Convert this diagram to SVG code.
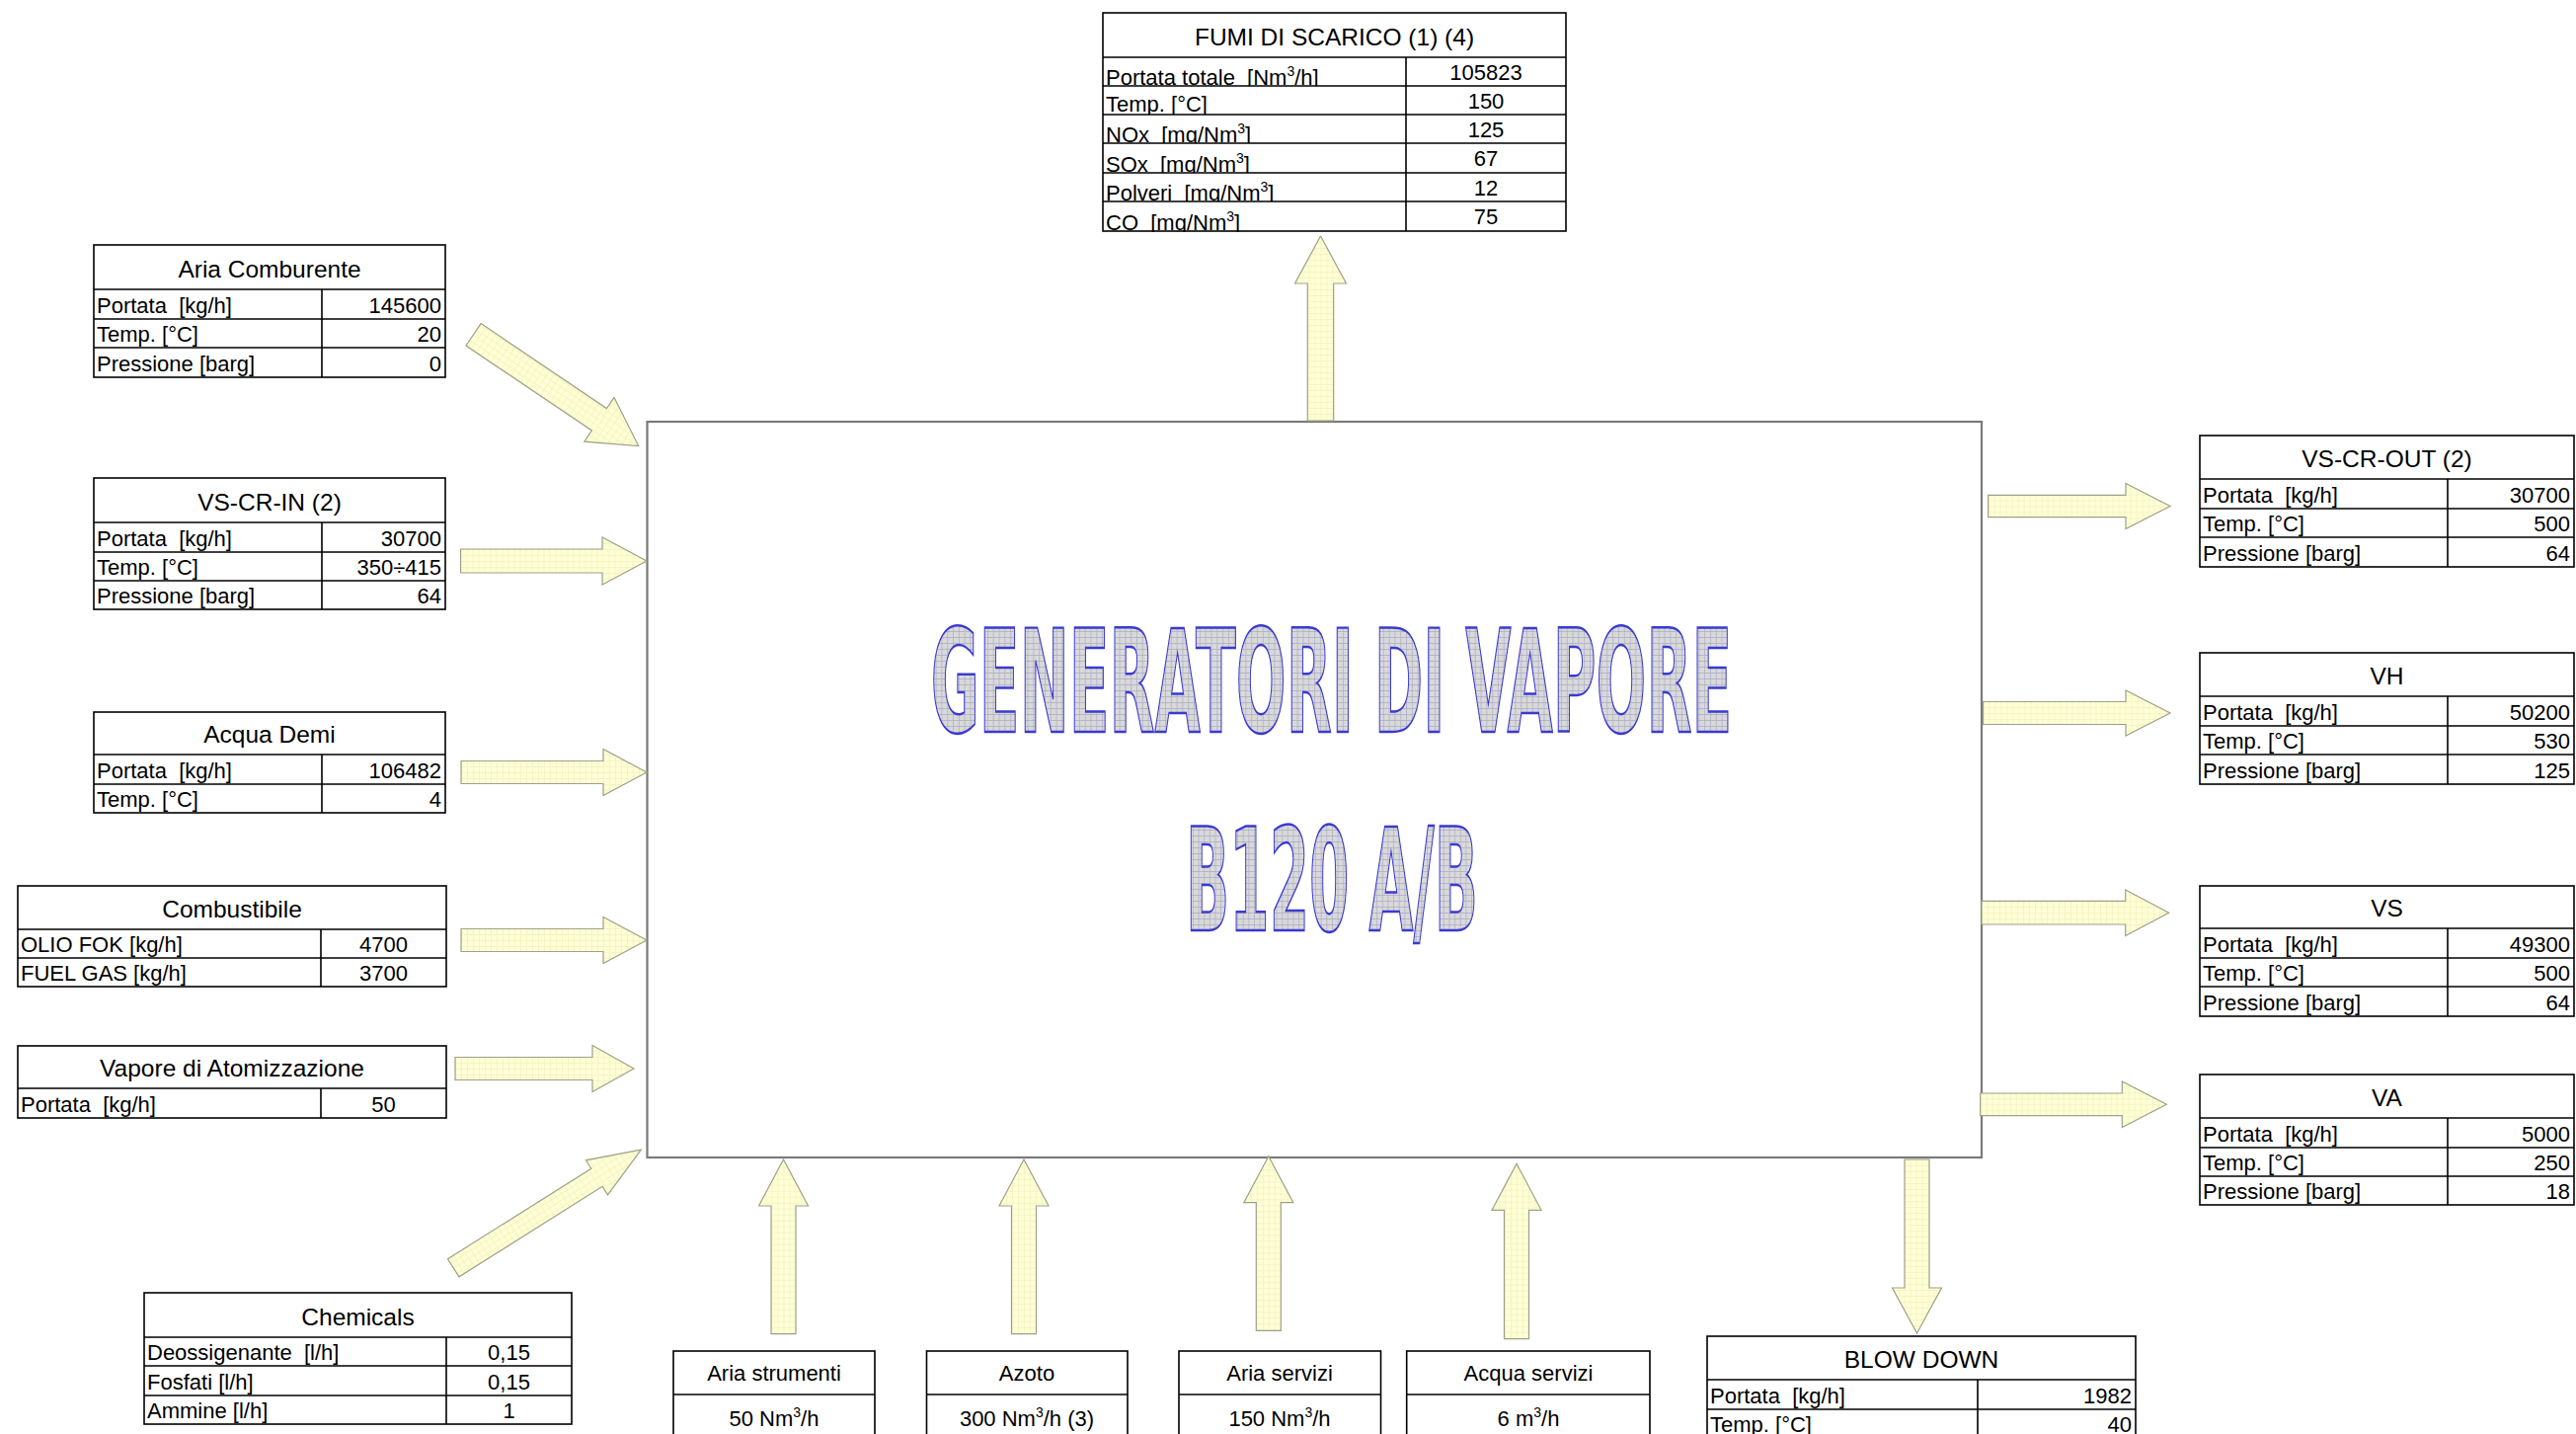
<svg xmlns="http://www.w3.org/2000/svg" width="2609" height="1452" viewBox="0 0 2609 1452">
<style>
.bg{fill:#fff;stroke:none}
.tb{fill:none;stroke:#000;stroke-width:1.6}
.ln{stroke:#000;stroke-width:1.6;fill:none}
text{font-family:"Liberation Sans",Arial,sans-serif;fill:#000;white-space:pre}
.h{font-size:24.5px;text-anchor:middle}
.l{font-size:22px}
.vr{font-size:22px;text-anchor:end}
.vc{font-size:22px;text-anchor:middle}
.ar{fill:url(#yg);stroke:#a0a088;stroke-width:1.2}
.wa{font-family:"DejaVu Sans","Liberation Sans",sans-serif;fill:url(#wg);stroke:#3a3ad0;stroke-width:2.4;font-size:144px;font-weight:bold;text-anchor:middle}
.box{fill:#fff;stroke:#7a7a7a;stroke-width:2.2}
</style>
<defs>
<pattern id="yg" patternUnits="userSpaceOnUse" width="6" height="6">
<rect width="6" height="6" fill="#ffffd6"/>
<path d="M0 0.5H6M0.5 0V6" stroke="#f1f1c2" stroke-width="0.8"/>
</pattern>
<pattern id="wg" patternUnits="userSpaceOnUse" width="14" height="6">
<rect width="14" height="6" fill="#d9d9d9"/>
<path d="M0 0.5H14M1 0V6" stroke="#a8a8c4" stroke-width="1"/>
</pattern>
</defs>
<rect width="2609" height="1452" fill="#fff"/>

<g id="generatori">
<rect class="box" x="655.5" y="427" width="1351.5" height="745"/>
<text class="wa" transform="translate(1348.5,741) scale(0.415,1)">GENERATORI DI VAPORE</text>
<text class="wa" transform="translate(1349,942) scale(0.403,1)">B120 A/B</text>
</g>

<g id="connectors">
<polygon class="ar" transform="translate(479.5,338.8) rotate(34)" points="0,-13.5 153.7,-13.5 153.7,-27 201.7,0 153.7,27 153.7,13.5 0,13.5"/>
<polygon class="ar" transform="translate(466.5,568)" points="0,-12 143.5,-12 143.5,-24 188.5,0 143.5,24 143.5,12 0,12"/>
<polygon class="ar" transform="translate(467,782)" points="0,-11.5 144,-11.5 144,-23.5 188,0 144,23.5 144,11.5 0,11.5"/>
<polygon class="ar" transform="translate(467,952)" points="0,-11.5 144,-11.5 144,-23.5 188,0 144,23.5 144,11.5 0,11.5"/>
<polygon class="ar" transform="translate(461,1082)" points="0,-11.5 139,-11.5 139,-23.5 181,0 139,23.5 139,11.5 0,11.5"/>
<polygon class="ar" transform="translate(459.2,1283.8) rotate(-32.2)" points="0,-10.7 171.7,-10.7 171.7,-20.7 224.7,0 171.7,20.7 171.7,10.7 0,10.7"/>
<polygon class="ar" transform="translate(1337.5,426) rotate(-90)" points="0,-13.2 139,-13.2 139,-26 187,0 139,26 139,13.2 0,13.2"/>
<polygon class="ar" transform="translate(793.5,1350.7) rotate(-90)" points="0,-12.5 129.7,-12.5 129.7,-25 176.7,0 129.7,25 129.7,12.5 0,12.5"/>
<polygon class="ar" transform="translate(1037,1350.7) rotate(-90)" points="0,-12.5 129.7,-12.5 129.7,-25 176.7,0 129.7,25 129.7,12.5 0,12.5"/>
<polygon class="ar" transform="translate(1284.8,1347.3) rotate(-90)" points="0,-12.5 129.6,-12.5 129.6,-25 176.6,0 129.6,25 129.6,12.5 0,12.5"/>
<polygon class="ar" transform="translate(1536,1355.7) rotate(-90)" points="0,-12.5 130.4,-12.5 130.4,-25 177.4,0 130.4,25 130.4,12.5 0,12.5"/>
<polygon class="ar" transform="translate(1941.5,1174) rotate(90)" points="0,-12.5 130,-12.5 130,-25 176,0 130,25 130,12.5 0,12.5"/>
<polygon class="ar" transform="translate(2013.6,512.5)" points="0,-11.2 139.4,-11.2 139.4,-23 184.4,0 139.4,23 139.4,11.2 0,11.2"/>
<polygon class="ar" transform="translate(2008.5,722)" points="0,-11.5 144.5,-11.5 144.5,-23 189.5,0 144.5,23 144.5,11.5 0,11.5"/>
<polygon class="ar" transform="translate(2007,924.2)" points="0,-11.8 145.7,-11.8 145.7,-23.3 189.7,0 145.7,23.3 145.7,11.8 0,11.8"/>
<polygon class="ar" transform="translate(2005.7,1118.3)" points="0,-11.3 143.6,-11.3 143.6,-23.3 188.6,0 143.6,23.3 143.6,11.3 0,11.3"/>
</g>

<g id="fumi">
<rect class="bg" x="1117" y="13" width="469" height="45"/>
<text class="h" x="1351.5" y="46">FUMI DI SCARICO (1) (4)</text>
<rect class="bg" x="1117" y="58" width="469" height="29"/>
<text class="l" x="1120" y="86" font-size="22.5">Portata totale  [Nm<tspan font-size="14" dy="-9">3</tspan><tspan dy="9">/h]</tspan></text>
<text class="vc" x="1505" y="81">105823</text>
<rect class="bg" x="1117" y="87" width="469" height="29"/>
<text class="l" x="1120" y="113">Temp. [°C]</text>
<text class="vc" x="1505" y="110">150</text>
<rect class="bg" x="1117" y="116" width="469" height="29"/>
<text class="l" x="1120" y="144">NOx  [mg/Nm<tspan font-size="14" dy="-9">3</tspan><tspan dy="9">]</tspan></text>
<text class="vc" x="1505" y="139">125</text>
<rect class="bg" x="1117" y="145" width="469" height="30"/>
<text class="l" x="1120" y="174">SOx  [mg/Nm<tspan font-size="14" dy="-9">3</tspan><tspan dy="9">]</tspan></text>
<text class="vc" x="1505" y="168">67</text>
<rect class="bg" x="1117" y="175" width="469" height="29"/>
<text class="l" x="1120" y="203">Polveri  [mg/Nm<tspan font-size="14" dy="-9">3</tspan><tspan dy="9">]</tspan></text>
<text class="vc" x="1505" y="198">12</text>
<rect class="bg" x="1117" y="204" width="469" height="30"/>
<text class="l" x="1120" y="233">CO  [mg/Nm<tspan font-size="14" dy="-9">3</tspan><tspan dy="9">]</tspan></text>
<text class="vc" x="1505" y="227">75</text>
<rect class="bg" x="1117" y="234.8" width="469" height="4"/>
<path class="ln" d="M1117 58H1586M1117 87H1586M1117 116H1586M1117 145H1586M1117 175H1586M1117 204H1586M1424 58V234"/>
<rect class="tb" x="1117" y="13" width="469" height="221"/>
</g>

<g id="aria-comburente">
<rect class="bg" x="95" y="248" width="356" height="134"/>
<text class="h" x="273" y="281">Aria Comburente</text>
<text class="l" x="98" y="317">Portata  [kg/h]</text><text class="vr" x="447" y="317">145600</text>
<text class="l" x="98" y="346">Temp. [°C]</text><text class="vr" x="447" y="346">20</text>
<text class="l" x="98" y="376">Pressione [barg]</text><text class="vr" x="447" y="376">0</text>
<path class="ln" d="M95 293H451M95 323H451M95 352H451M326 293V382"/>
<rect class="tb" x="95" y="248" width="356" height="134"/>
</g>

<g id="vs-cr-in">
<rect class="bg" x="95" y="484" width="356" height="133"/>
<text class="h" x="273" y="517">VS-CR-IN (2)</text>
<text class="l" x="98" y="553">Portata  [kg/h]</text><text class="vr" x="447" y="553">30700</text>
<text class="l" x="98" y="582">Temp. [°C]</text><text class="vr" x="447" y="582">350÷415</text>
<text class="l" x="98" y="611">Pressione [barg]</text><text class="vr" x="447" y="611">64</text>
<path class="ln" d="M95 529H451M95 559H451M95 588H451M326 529V617"/>
<rect class="tb" x="95" y="484" width="356" height="133"/>
</g>

<g id="acqua-demi">
<rect class="bg" x="95" y="721" width="356" height="102"/>
<text class="h" x="273" y="752">Acqua Demi</text>
<text class="l" x="98" y="788">Portata  [kg/h]</text><text class="vr" x="447" y="788">106482</text>
<text class="l" x="98" y="817">Temp. [°C]</text><text class="vr" x="447" y="817">4</text>
<path class="ln" d="M95 764H451M95 794H451M326 764V823"/>
<rect class="tb" x="95" y="721" width="356" height="102"/>
</g>

<g id="combustibile">
<rect class="bg" x="18" y="897" width="434" height="102"/>
<text class="h" x="235" y="929">Combustibile</text>
<text class="l" x="21" y="964">OLIO FOK [kg/h]</text><text class="vc" x="388.5" y="964">4700</text>
<text class="l" x="21" y="993">FUEL GAS [kg/h]</text><text class="vc" x="388.5" y="993">3700</text>
<path class="ln" d="M18 941H452M18 970H452M325 941V999"/>
<rect class="tb" x="18" y="897" width="434" height="102"/>
</g>

<g id="vapore-atomizzazione">
<rect class="bg" x="18" y="1059" width="434" height="73"/>
<text class="h" x="235" y="1090">Vapore di Atomizzazione</text>
<text class="l" x="21" y="1126">Portata  [kg/h]</text><text class="vc" x="388.5" y="1126">50</text>
<path class="ln" d="M18 1102H452M325 1102V1132"/>
<rect class="tb" x="18" y="1059" width="434" height="73"/>
</g>

<g id="chemicals">
<rect class="bg" x="146" y="1309" width="433" height="133"/>
<text class="h" x="362.5" y="1342">Chemicals</text>
<text class="l" x="149" y="1377">Deossigenante  [l/h]</text><text class="vc" x="515.5" y="1377">0,15</text>
<text class="l" x="149" y="1407">Fosfati [l/h]</text><text class="vc" x="515.5" y="1407">0,15</text>
<text class="l" x="149" y="1436">Ammine [l/h]</text><text class="vc" x="515.5" y="1436">1</text>
<path class="ln" d="M146 1354H579M146 1383H579M146 1413H579M452 1354V1442"/>
<rect class="tb" x="146" y="1309" width="433" height="133"/>
</g>

<g id="vs-cr-out">
<rect class="bg" x="2228" y="441" width="379" height="133"/>
<text class="h" x="2417.5" y="473">VS-CR-OUT (2)</text>
<text class="l" x="2231" y="509">Portata  [kg/h]</text><text class="vr" x="2603" y="509">30700</text>
<text class="l" x="2231" y="538">Temp. [°C]</text><text class="vr" x="2603" y="538">500</text>
<text class="l" x="2231" y="568">Pressione [barg]</text><text class="vr" x="2603" y="568">64</text>
<path class="ln" d="M2228 485H2607M2228 515H2607M2228 544H2607M2479 485V574"/>
<rect class="tb" x="2228" y="441" width="379" height="133"/>
</g>

<g id="vh">
<rect class="bg" x="2228" y="661" width="379" height="133"/>
<text class="h" x="2417.5" y="693">VH</text>
<text class="l" x="2231" y="729">Portata  [kg/h]</text><text class="vr" x="2603" y="729">50200</text>
<text class="l" x="2231" y="758">Temp. [°C]</text><text class="vr" x="2603" y="758">530</text>
<text class="l" x="2231" y="788">Pressione [barg]</text><text class="vr" x="2603" y="788">125</text>
<path class="ln" d="M2228 705H2607M2228 735H2607M2228 764H2607M2479 705V794"/>
<rect class="tb" x="2228" y="661" width="379" height="133"/>
</g>

<g id="vs">
<rect class="bg" x="2228" y="897" width="379" height="132"/>
<text class="h" x="2417.5" y="928">VS</text>
<text class="l" x="2231" y="964">Portata  [kg/h]</text><text class="vr" x="2603" y="964">49300</text>
<text class="l" x="2231" y="993">Temp. [°C]</text><text class="vr" x="2603" y="993">500</text>
<text class="l" x="2231" y="1023">Pressione [barg]</text><text class="vr" x="2603" y="1023">64</text>
<path class="ln" d="M2228 940H2607M2228 970H2607M2228 999H2607M2479 940V1029"/>
<rect class="tb" x="2228" y="897" width="379" height="132"/>
</g>

<g id="va">
<rect class="bg" x="2228" y="1088" width="379" height="132"/>
<text class="h" x="2417.5" y="1120">VA</text>
<text class="l" x="2231" y="1156">Portata  [kg/h]</text><text class="vr" x="2603" y="1156">5000</text>
<text class="l" x="2231" y="1185">Temp. [°C]</text><text class="vr" x="2603" y="1185">250</text>
<text class="l" x="2231" y="1214">Pressione [barg]</text><text class="vr" x="2603" y="1214">18</text>
<path class="ln" d="M2228 1132H2607M2228 1162H2607M2228 1191H2607M2479 1132V1220"/>
<rect class="tb" x="2228" y="1088" width="379" height="132"/>
</g>

<g id="blow-down">
<rect class="bg" x="1729" y="1353" width="434" height="104"/>
<text class="h" x="1946" y="1385">BLOW DOWN</text>
<text class="l" x="1732" y="1421">Portata  [kg/h]</text><text class="vr" x="2159" y="1421">1982</text>
<text class="l" x="1732" y="1450">Temp. [°C]</text><text class="vr" x="2159" y="1450">40</text>
<path class="ln" d="M1729 1397H2163M1729 1427H2163M2003 1397V1457"/>
<rect class="tb" x="1729" y="1353" width="434" height="104"/>
</g>

<g id="aria-strumenti">
<rect class="bg" x="682" y="1368" width="204" height="90"/>
<text class="vc" x="784" y="1398">Aria strumenti</text>
<text class="vc" x="784" y="1444">50 Nm<tspan font-size="14" dy="-9">3</tspan><tspan dy="9">/h</tspan></text>
<path class="ln" d="M682 1412H886"/>
<rect class="tb" x="682" y="1368" width="204" height="90"/>
</g>

<g id="azoto">
<rect class="bg" x="938.5" y="1368" width="203.5" height="90"/>
<text class="vc" x="1040" y="1398">Azoto</text>
<text class="vc" x="1040" y="1444">300 Nm<tspan font-size="14" dy="-9">3</tspan><tspan dy="9">/h (3)</tspan></text>
<path class="ln" d="M938.5 1412H1142"/>
<rect class="tb" x="938.5" y="1368" width="203.5" height="90"/>
</g>

<g id="aria-servizi">
<rect class="bg" x="1194" y="1368" width="204.5" height="90"/>
<text class="vc" x="1296" y="1398">Aria servizi</text>
<text class="vc" x="1296" y="1444">150 Nm<tspan font-size="14" dy="-9">3</tspan><tspan dy="9">/h</tspan></text>
<path class="ln" d="M1194 1412H1398.5"/>
<rect class="tb" x="1194" y="1368" width="204.5" height="90"/>
</g>

<g id="acqua-servizi">
<rect class="bg" x="1424.7" y="1368" width="246.3" height="90"/>
<text class="vc" x="1548" y="1398">Acqua servizi</text>
<text class="vc" x="1548" y="1444">6 m<tspan font-size="14" dy="-9">3</tspan><tspan dy="9">/h</tspan></text>
<path class="ln" d="M1424.7 1412H1671"/>
<rect class="tb" x="1424.7" y="1368" width="246.3" height="90"/>
</g>
</svg>
